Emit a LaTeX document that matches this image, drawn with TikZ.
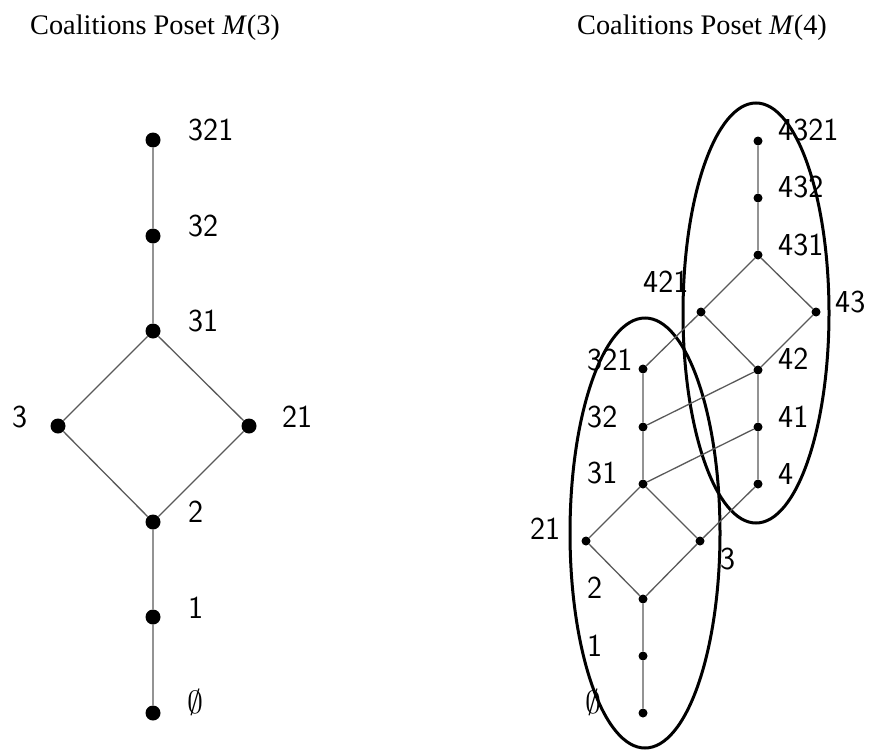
\RequirePackage{fix-cm}
\documentclass[tikz,border=0pt]{standalone}
\usepackage{fontspec}
\newfontfamily\titlefont{Liberation Serif}
\begin{document}
\begin{tikzpicture}[x=1pt,y=-1pt,
  bigdot/.style={circle,fill=black,inner sep=0pt,minimum size=15pt},
  smalldot/.style={circle,fill=black,inner sep=0pt,minimum size=9pt},
  lab/.style={anchor=west,inner sep=0pt,font=\fontsize{32}{36}\selectfont\sffamily},
  edge/.style={draw=black!65,line width=1.3pt},
  ring/.style={draw=black,line width=3pt},
  ttl/.style={anchor=base west,inner sep=0pt,font=\fontsize{28.3}{32}\selectfont\titlefont}]
\useasboundingbox (0,0) rectangle (869,749);
% titles
\node[ttl] (t3) at (30,35) {Coalitions Poset \textit{M}(3)};
\node[ttl] (t4) at (577,35) {Coalitions Poset \textit{M}(4)};
% ellipses
\draw[ring] (645,533) ellipse [x radius=75pt, y radius=215pt];
\draw[ring] (756,313) ellipse [x radius=73pt, y radius=210pt];
% left poset M(3)
\node[bigdot] (p321) at (153,140) {};
\node[bigdot] (p32) at (153,236) {};
\node[bigdot] (p31) at (153,331) {};
\node[bigdot] (p3) at (58,426) {};
\node[bigdot] (p21) at (249,426) {};
\node[bigdot] (p2) at (153,522) {};
\node[bigdot] (p1) at (153,617) {};
\node[bigdot] (p0) at (153,713) {};
\draw[edge] (p321) -- (p32) -- (p31) -- (p3) -- (p2) -- (p1) -- (p0);
\draw[edge] (p31) -- (p21) -- (p2);
\node[lab] (lp321) at (188,130) {321};
\node[lab] (lp32) at (188,226) {32};
\node[lab] (lp31) at (188,321) {31};
\node[lab] (lp3) at (12,417) {3};
\node[lab] (lp21) at (282,417) {21};
\node[lab] (lp2) at (188,512) {2};
\node[lab] (lp1) at (188,608) {1};
\node[lab] (lp0) at (187,702) {$\emptyset$};
% right poset M(4)
\node[smalldot] (a4321) at (758,141) {};
\node[smalldot] (a432) at (758,198) {};
\node[smalldot] (a431) at (758,255) {};
\node[smalldot] (a421) at (701,312) {};
\node[smalldot] (a43) at (816,312) {};
\node[smalldot] (a42) at (758,370) {};
\node[smalldot] (a41) at (758,427) {};
\node[smalldot] (a4) at (758,484) {};
\node[smalldot] (b321) at (643,369) {};
\node[smalldot] (b32) at (643,427) {};
\node[smalldot] (b31) at (643,484) {};
\node[smalldot] (b21) at (586,541) {};
\node[smalldot] (b3) at (700,541) {};
\node[smalldot] (b2) at (643,599) {};
\node[smalldot] (b1) at (643,656) {};
\node[smalldot] (b0) at (643,713) {};
\draw[edge] (a4321) -- (a432) -- (a431) -- (a421) -- (a42) -- (a41) -- (a4);
\draw[edge] (a431) -- (a43) -- (a42);
\draw[edge] (b321) -- (b32) -- (b31) -- (b21) -- (b2) -- (b1) -- (b0);
\draw[edge] (b31) -- (b3) -- (b2);
\draw[edge] (a421) -- (b321);
\draw[edge] (a42) -- (b32);
\draw[edge] (a41) -- (b31);
\draw[edge] (a4) -- (b3);
\node[lab] (la4321) at (778,130) {4321};
\node[lab] (la432) at (778,187) {432};
\node[lab] (la431) at (778,245) {431};
\node[lab] (la421) at (643,282) {421};
\node[lab] (la43) at (835,302) {43};
\node[lab] (la42) at (778,359) {42};
\node[lab] (la41) at (778,417) {41};
\node[lab] (la4) at (778,474) {4};
\node[lab] (lb321) at (587,360) {321};
\node[lab] (lb32) at (587,417) {32};
\node[lab] (lb31) at (587,473) {31};
\node[lab] (lb21) at (530,529) {21};
\node[lab] (lb3) at (720,559) {3};
\node[lab] (lb2) at (587,588) {2};
\node[lab] (lb1) at (587,646) {1};
\node[lab] (lb0) at (585,702) {$\emptyset$};
\end{tikzpicture}
\end{document}
